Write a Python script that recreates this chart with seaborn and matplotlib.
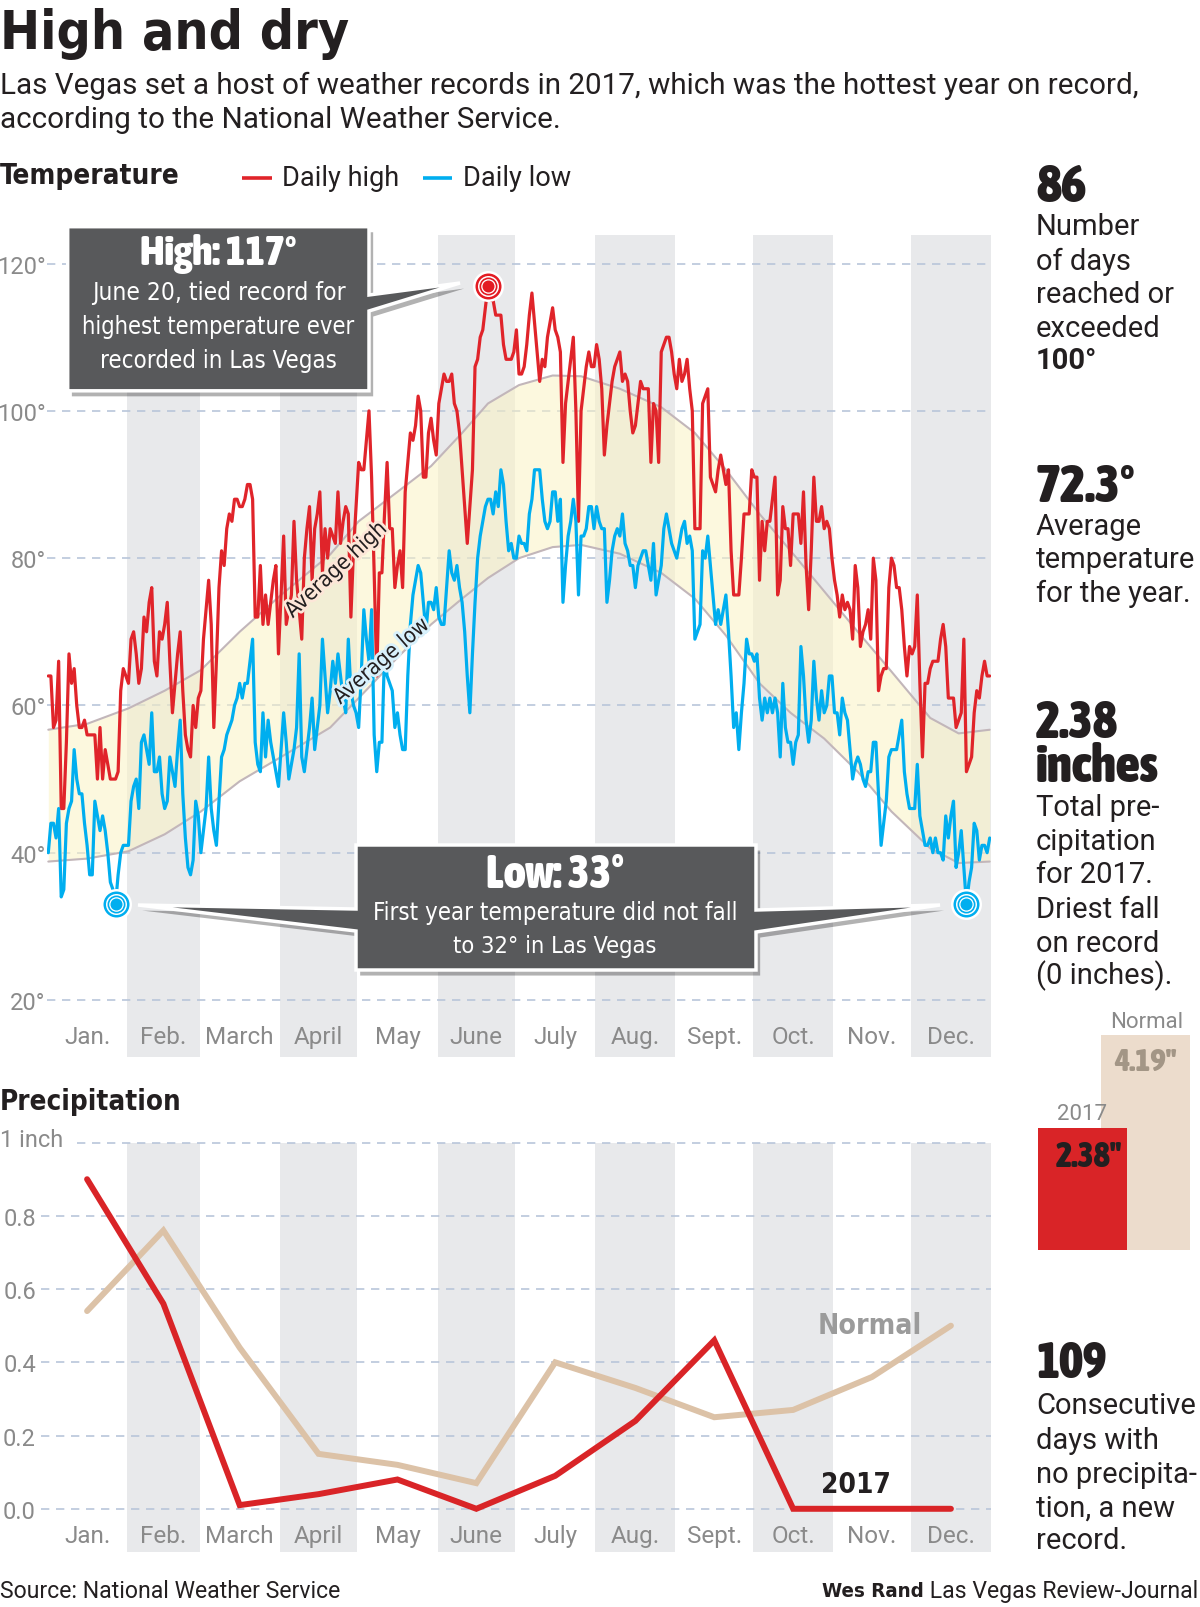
import numpy as np
import pandas as pd
import matplotlib
matplotlib.use('Agg')
import matplotlib.pyplot as plt
import matplotlib.patheffects as pe
from matplotlib.patches import Polygon
from matplotlib import font_manager as fm
from matplotlib.font_manager import FontProperties
import seaborn as sns

# ---------------- data ----------------
month_names = ['Jan.', 'Feb.', 'March', 'April', 'May', 'June', 'July', 'Aug.', 'Sept.', 'Oct.', 'Nov.', 'Dec.']
month_days = [31, 28, 31, 30, 31, 30, 31, 31, 30, 31, 30, 31]

high_jan = [64, 64, 57, 58, 66, 46, 46, 55, 67, 63, 65, 60, 57, 57, 58, 56, 56, 56, 56, 50, 57, 50, 54, 52, 50, 50, 50, 51, 62, 65, 64]
high_feb = [63, 69, 70, 67, 63, 65, 72, 70, 74, 76, 66, 64, 70, 69, 71, 74, 66, 59, 63, 67, 70, 62, 56, 54, 53, 60, 57, 61]
high_mar = [62, 69, 73, 77, 71, 57, 66, 76, 81, 79, 84, 86, 85, 88, 88, 87, 87, 88, 90, 90, 88, 72, 72, 79, 71, 75, 71, 74, 77, 79, 67]
high_apr = [75, 83, 71, 73, 75, 85, 77, 73, 69, 80, 84, 87, 77, 84, 86, 89, 78, 84, 80, 84, 83, 82, 89, 82, 85, 87, 86, 72, 81, 87]
high_may = [93, 92, 92, 96, 100, 91, 78, 64, 78, 78, 86, 93, 84, 84, 76, 79, 81, 76, 89, 93, 97, 96, 98, 102, 100, 91, 91, 97, 99, 96, 94]
high_jun = [101, 103, 105, 104, 104, 105, 101, 100, 97, 92, 87, 82, 87, 92, 106, 107, 110, 111, 114, 117, 115, 115, 113, 113, 113, 109, 107, 107, 107, 108]
high_jul = [111, 105, 105, 106, 109, 113, 116, 112, 108, 104, 107, 106, 110, 112, 114, 111, 110, 108, 93, 101, 104, 107, 110, 100, 85, 100, 103, 106, 108, 106, 106]
high_aug = [109, 107, 103, 94, 98, 101, 104, 106, 107, 108, 104, 105, 104, 100, 97, 98, 101, 104, 103, 103, 103, 93, 101, 100, 93, 108, 109, 110, 110, 108, 105]
high_sep = [103, 107, 104, 105, 107, 103, 100, 84, 84, 84, 101, 102, 103, 91, 90, 89, 92, 94, 92, 90, 92, 81, 75, 75, 75, 80, 86, 86, 86, 92]
high_oct = [91, 91, 77, 85, 81, 85, 85, 88, 91, 75, 77, 87, 84, 84, 79, 86, 86, 86, 82, 89, 79, 73, 81, 91, 85, 85, 87, 84, 85, 84, 80]
high_nov = [77, 75, 72, 75, 73, 74, 73, 69, 79, 76, 68, 70, 71, 73, 69, 80, 77, 62, 64, 65, 65, 76, 80, 79, 76, 76, 73, 68, 64, 68]
high_dec = [67, 68, 75, 63, 53, 63, 63, 65, 66, 66, 66, 69, 71, 68, 61, 61, 61, 57, 58, 59, 69, 51, 52, 53, 59, 62, 61, 64, 66, 64, 64]

low_jan = [40, 44, 44, 42, 46, 34, 35, 44, 46, 47, 54, 50, 48, 48, 44, 41, 37, 37, 47, 45, 43, 45, 43, 40, 36, 35, 33, 37, 40, 41, 41]
low_feb = [41, 47, 49, 50, 46, 55, 56, 54, 52, 59, 51, 51, 53, 48, 46, 47, 53, 51, 49, 54, 58, 48, 42, 38, 37, 39, 47, 45]
low_mar = [40, 43, 46, 53, 46, 43, 41, 47, 53, 54, 56, 57, 58, 60, 61, 63, 61, 63, 63, 66, 69, 55, 52, 51, 59, 53, 58, 55, 53, 51, 49]
low_apr = [54, 59, 55, 50, 52, 54, 57, 67, 53, 51, 54, 57, 61, 54, 57, 60, 69, 64, 59, 62, 66, 63, 67, 64, 61, 59, 69, 62, 60, 59]
low_may = [57, 64, 73, 69, 66, 73, 56, 51, 55, 55, 67, 64, 63, 62, 57, 59, 56, 54, 54, 64, 71, 75, 77, 79, 78, 74, 70, 74, 74, 73, 76]
low_jun = [72, 71, 71, 76, 81, 78, 77, 79, 76, 74, 70, 64, 59, 67, 74, 80, 83, 85, 87, 88, 88, 86, 89, 87, 92, 90, 85, 81, 82, 80]
low_jul = [80, 83, 82, 82, 81, 86, 88, 92, 92, 92, 88, 85, 84, 85, 89, 89, 85, 88, 74, 79, 83, 85, 88, 85, 75, 83, 83, 84, 87, 87, 84]
low_aug = [87, 85, 84, 84, 74, 77, 81, 83, 84, 83, 86, 82, 81, 79, 79, 76, 79, 80, 81, 81, 79, 77, 82, 75, 77, 79, 84, 86, 84, 82, 81]
low_sep = [80, 82, 84, 85, 82, 83, 81, 69, 70, 71, 81, 80, 83, 79, 75, 71, 73, 71, 73, 75, 70, 64, 57, 59, 54, 59, 63, 69, 67, 67]
low_oct = [66, 67, 61, 58, 61, 59, 61, 59, 61, 59, 53, 63, 57, 55, 55, 52, 55, 56, 68, 64, 58, 55, 58, 66, 61, 58, 62, 59, 60, 64, 64]
low_nov = [59, 59, 56, 61, 59, 58, 54, 50, 52, 53, 52, 50, 49, 51, 51, 55, 55, 48, 41, 44, 47, 53, 54, 54, 54, 56, 58, 51, 48, 46]
low_dec = [46, 46, 52, 45, 43, 41, 41, 42, 40, 42, 40, 40, 39, 45, 42, 45, 47, 38, 40, 43, 38, 33, 36, 38, 44, 43, 39, 41, 41, 40, 42]

avg_days = [0, 15, 31, 45, 59, 74, 90, 109, 120, 135, 148, 160, 170, 182, 195, 206, 221, 237, 250, 262, 275, 287, 300, 313, 326, 341, 352, 364]
avg_high = [56.7, 57.5, 59.6, 62, 64.8, 70, 75, 80.5, 85, 89, 92.5, 97, 101, 103.5, 104.8, 104.7, 103, 100.5, 97, 92, 86, 81, 75.5, 70, 64.6, 58.3, 56.2, 56.7]
avg_low = [38.8, 39.2, 40.2, 42.5, 45.6, 49.7, 53, 57, 61, 66.5, 71, 74.5, 77.3, 80, 81.5, 81.8, 80.6, 78, 74.5, 69.5, 63, 59, 55.5, 51, 45.6, 40.6, 38.6, 38.8]

precip_2017 = [0.90, 0.56, 0.01, 0.04, 0.08, 0.00, 0.09, 0.24, 0.46, 0.00, 0.00, 0.00]
precip_normal = [0.54, 0.76, 0.44, 0.15, 0.12, 0.07, 0.40, 0.33, 0.25, 0.27, 0.36, 0.50]
total_labels = ['2017', 'Normal']
total_values = [2.38, 4.19]

temp_ticks = [20, 40, 60, 80, 100, 120]
precip_ticks = [0.0, 0.2, 0.4, 0.6, 0.8]

daily_high = sum([high_jan, high_feb, high_mar, high_apr, high_may, high_jun,
                  high_jul, high_aug, high_sep, high_oct, high_nov, high_dec], [])
daily_low = sum([low_jan, low_feb, low_mar, low_apr, low_may, low_jun,
                 low_jul, low_aug, low_sep, low_oct, low_nov, low_dec], [])
days = np.arange(len(daily_high))
month_start = np.concatenate([[0], np.cumsum(month_days)[:-1]])
month_mid = month_start + np.array(month_days) / 2.0 - 0.5
df_daily = pd.DataFrame({'day': days, 'high': daily_high, 'low': daily_low})
df_avg = pd.DataFrame({'day': avg_days, 'high': avg_high, 'low': avg_low})
df_prec = pd.DataFrame({'mid': month_mid, 'y2017': precip_2017, 'normal': precip_normal})

# ---------------- style ----------------
sns.set_theme(style='white')
names = {f.name for f in fm.fontManager.ttflist}
BODY = 'Roboto' if 'Roboto' in names else 'DejaVu Sans'
plt.rcParams['font.family'] = [BODY, 'DejaVu Sans']


def _wnum(w):
    if isinstance(w, (int, float)):
        return int(w)
    try:
        return int(w)
    except Exception:
        return fm.weight_dict.get(str(w).lower(), 400)


def _is_narrow(f):
    nm = f.name.lower()
    st = f.stretch
    if any(k in nm for k in ('narrow', 'condensed', 'compressed')):
        return True
    if isinstance(st, str) and 'condensed' in st.lower():
        return True
    if isinstance(st, (int, float)) and st < 500:
        return True
    return False


def pick_font(target):
    cands = []
    for f in fm.fontManager.ttflist:
        if f.style != 'normal' or not _is_narrow(f):
            continue
        if 'cjk' in f.name.lower() or 'mono' in f.name.lower():
            continue
        w = _wnum(f.weight)
        if target >= 600 and w < 600:
            continue
        if target < 600 and (w < 350 or w > 500):
            continue
        cands.append((abs(w - target), f.fname))
    if cands:
        cands.sort()
        return cands[0][1]
    return fm.findfont(FontProperties(family=BODY, weight='bold' if target >= 600 else 'normal'))


NARROW_BLACK = pick_font(850)
NARROW_B = pick_font(700)
NARROW_R = pick_font(400)

RED = '#e0242a'
BLUE = '#00aeef'
TAN = '#dcc2a7'
BAND = '#e8e9eb'
GRID = '#b9c6da'
GRAYTXT = '#8a8a8a'
DARK = '#231f20'
BOX = '#58595b'

W, H = 1200, 1608
fig = plt.figure(figsize=(W / 100, H / 100), dpi=100)
fig.patch.set_facecolor('white')
renderer = fig.canvas.get_renderer()


def fit_text(ax, x, y, s, target_w, path, rotation=0, **kw):
    """Place text in a given font file, sized so its width matches target_w pixels."""
    t = ax.text(x, y, s, fontproperties=FontProperties(fname=path, size=20), **kw)
    w = t.get_window_extent(renderer=renderer).width
    t.set_fontproperties(FontProperties(fname=path, size=20 * target_w / w))
    t.set_rotation(rotation)
    return t


def px_axes(left, top, right, bottom, z=1):
    a = fig.add_axes([left / W, 1 - bottom / H, (right - left) / W, (bottom - top) / H])
    a.set_zorder(z)
    a.patch.set_alpha(0)
    for s in a.spines.values():
        s.set_visible(False)
    return a


# ---------------- temperature panel ----------------
ax_t = px_axes(47, 236, 991, 1058)
ax_t.set_xlim(-0.5, 364.5)
ax_t.set_ylim(12.26, 123.88)
for i in range(1, 12, 2):
    ax_t.axvspan(month_start[i] - 0.5, month_start[i] + month_days[i] - 0.5, color=BAND, lw=0, zorder=0)
for v in temp_ticks:
    ax_t.axhline(v, color=GRID, lw=1.2, ls=(0, (5, 4)), zorder=1)

ax_t.fill_between(df_avg['day'], df_avg['low'], df_avg['high'], color='#fbf3c4', alpha=0.55, lw=0, zorder=1.5)
sns.lineplot(data=df_avg, x='day', y='high', ax=ax_t, color='#c2b6ba', linewidth=1.5, zorder=2)
sns.lineplot(data=df_avg, x='day', y='low', ax=ax_t, color='#c2b6ba', linewidth=1.5, zorder=2)

sns.lineplot(data=df_daily, x='day', y='high', ax=ax_t, color=RED, linewidth=2.3, zorder=3,
             solid_joinstyle='round')
sns.lineplot(data=df_daily, x='day', y='low', ax=ax_t, color=BLUE, linewidth=2.3, zorder=3.2,
             solid_joinstyle='round')

ax_t.set_xlabel('')
ax_t.set_ylabel('')
ax_t.set_xticks([])
ax_t.set_yticks(temp_ticks)
ax_t.set_yticklabels([f'{v}°' for v in temp_ticks])
ax_t.tick_params(axis='y', length=0, pad=1, labelsize=17, labelcolor=GRAYTXT)
for m, name in zip(month_mid, month_names):
    ax_t.text(m, 14.98, name, ha='center', va='center', fontsize=17.5, color=GRAYTXT)

# average labels
fit_text(ax_t, 111.3, 78.4, 'Average high', 130, NARROW_R, rotation=43, ha='center', va='center',
         color=DARK, zorder=4, path_effects=[pe.withStroke(linewidth=4, foreground='#fde6d8')])
fit_text(ax_t, 128.8, 66.0, 'Average low', 119, NARROW_R, rotation=41, ha='center', va='center',
         color=DARK, zorder=4, path_effects=[pe.withStroke(linewidth=4, foreground='#d8f1fc')])


def ring_marker(ax, x, y, color):
    for r, c in [(15.5, 'white'), (13, color), (10.5, 'white'), (9, color), (7.3, 'white'), (6, color)]:
        ax.scatter([x], [y], s=(2 * r * 0.72) ** 2, color=c, lw=0, zorder=8, clip_on=False)


hi_idx = int(np.argmax(daily_high))
jan_idx = int(np.argmin(daily_low[:31]))
dec_idx = int(month_start[11] + np.argmin(daily_low[int(month_start[11]):]))
ring_marker(ax_t, hi_idx, daily_high[hi_idx], '#e31b23')
ring_marker(ax_t, jan_idx, daily_low[jan_idx], BLUE)
ring_marker(ax_t, dec_idx, daily_low[dec_idx], BLUE)

# ---------------- precipitation panel ----------------
ax_p = px_axes(47, 1143.6, 991, 1553)
ax_p.set_xlim(-0.5, 364.5)
ax_p.set_ylim(-0.118, 1.0)
for i in range(1, 12, 2):
    ax_p.axvspan(month_start[i] - 0.5, month_start[i] + month_days[i] - 0.5, color=BAND, lw=0, zorder=0)
for v in precip_ticks:
    ax_p.axhline(v, xmin=-0.006, color=GRID, lw=1.2, ls=(0, (5, 4)), zorder=1, clip_on=False)
ax_p.axhline(1.0, xmin=0.032, color=GRID, lw=1.2, ls=(0, (5, 4)), zorder=1, clip_on=False)
sns.lineplot(data=df_prec, x='mid', y='normal', ax=ax_p, color=TAN, linewidth=4.3, zorder=3,
             solid_capstyle='round', solid_joinstyle='miter')
sns.lineplot(data=df_prec, x='mid', y='y2017', ax=ax_p, color='#d92427', linewidth=4.3, zorder=4,
             solid_capstyle='round', solid_joinstyle='miter')
ax_p.set_xlabel('')
ax_p.set_ylabel('')
ax_p.set_xticks([])
ax_p.set_yticks(precip_ticks)
ax_p.set_yticklabels([f'{v:.1f}' for v in precip_ticks])
ax_p.tick_params(axis='y', length=0, pad=8, labelsize=17, labelcolor=GRAYTXT)
for m, name in zip(month_mid, month_names):
    ax_p.text(m, -0.072, name, ha='center', va='center', fontsize=17.5, color=GRAYTXT)

# ---------------- total precipitation bars ----------------
ax_b = px_axes(1038, 990, 1190, 1251)
ax_b.set_xlim(-0.709, 1.713)
ax_b.set_ylim(0, (1251 - 990) / 51.3)
ax_b.bar([1], [total_values[1]], width=1.418, color='#ecdccc', lw=0, zorder=1)
ax_b.bar([0], [total_values[0]], width=1.418, color='#d92427', lw=0, zorder=2)
ax_b.set_xticks([])
ax_b.set_yticks([])
fit_text(ax_b, 1, total_values[1] - 0.51, f'{total_values[1]:.2f}"', 62, NARROW_BLACK, ha='center', va='center',
         color='#a39686', zorder=3)
fit_text(ax_b, 0.1, total_values[0] - 0.55, f'{total_values[0]:.2f}"', 66, NARROW_BLACK, ha='center', va='center',
         color=DARK, zorder=3)
ax_b.text(1.03, total_values[1] + 0.27, total_labels[1], ha='center', va='center', fontsize=16, color=GRAYTXT)
ax_b.text(0.0, total_values[0] + 0.29, total_labels[0], ha='center', va='center', fontsize=16, color=GRAYTXT)

# ---------------- overlay (text & callouts) ----------------
ov = fig.add_axes([0, 0, 1, 1])
ov.set_zorder(5)
ov.patch.set_alpha(0)
ov.set_xlim(0, W)
ov.set_ylim(H, 0)
ov.axis('off')

fit_text(ov, 0, 49, 'High and dry', 350, NARROW_B, color=DARK, va='baseline')
ov.text(0, 86, 'Las Vegas set a host of weather records in 2017, which was the hottest year on record,',
        fontsize=21.3, color=DARK, va='center')
ov.text(0, 120, 'according to the National Weather Service.', fontsize=21.3, color=DARK, va='center')

fit_text(ov, 0, 176, 'Temperature', 180, NARROW_B, color=DARK, va='center')
ov.plot([242, 272], [179, 179], color=RED, lw=2.6, solid_capstyle='butt')
ov.text(282, 179, 'Daily high', fontsize=19.5, color=DARK, va='center')
ov.plot([423, 452], [179, 179], color=BLUE, lw=2.6, solid_capstyle='butt')
ov.text(463, 179, 'Daily low', fontsize=19.5, color=DARK, va='center')

fit_text(ov, 0, 1102, 'Precipitation', 181, NARROW_B, color=DARK, va='center')
ov.text(0, 1141, '1 inch', fontsize=17, color=GRAYTXT, va='center')
fit_text(ov, 870, 1326, 'Normal', 104, NARROW_B, color='#9b9b9b', ha='center', va='center')
fit_text(ov, 856, 1485, '2017', 70, NARROW_B, color=DARK, ha='center', va='center')

shadow = [pe.SimplePatchShadow(offset=(3, -4), shadow_rgbFace='black', alpha=0.3), pe.Normal()]
high_box = [(67.7, 227.7), (369, 227.7), (369, 296), (460, 284), (369, 312), (369, 391.8), (67.7, 391.8)]
ov.add_patch(Polygon(high_box, closed=True, facecolor=BOX, edgecolor='white', lw=2.5,
                     joinstyle='miter', path_effects=shadow))
low_box = [(356, 846), (756, 846), (756, 911), (940, 906), (756, 933), (756, 971), (356, 971),
           (356, 932), (138, 906), (356, 910)]
ov.add_patch(Polygon(low_box, closed=True, facecolor=BOX, edgecolor='white', lw=2.5,
                     joinstyle='miter', path_effects=shadow))

fit_text(ov, 218.5, 254, 'High: 117°', 156, NARROW_BLACK, color='white', ha='center', va='center')
for y, s, tw in [(293, 'June 20, tied record for', 252), (327, 'highest temperature ever', 273),
                 (361, 'recorded in Las Vegas', 236)]:
    fit_text(ov, 218.5, y, s, tw, NARROW_R, color='white', ha='center', va='center')
fit_text(ov, 555, 875, 'Low: 33°', 138, NARROW_BLACK, color='white', ha='center', va='center')
for y, s, tw in [(913, 'First year temperature did not fall', 362), (947, 'to 32° in Las Vegas', 203)]:
    fit_text(ov, 555, y, s, tw, NARROW_R, color='white', ha='center', va='center')

# right-hand stats
SX = 1036
big_stats = [(187, '86', 50), (487, '72.3°', 99), (724, '2.38', 82), (768, 'inches', 123), (1364, '109', 70)]
for y, s, tw in big_stats:
    fit_text(ov, SX, y, s, tw, NARROW_BLACK, color=DARK, va='center')
body_stats = [
    (227, 'Number'), (262, 'of days'), (295, 'reached or'), (329, 'exceeded'),
    (527, 'Average'), (560, 'temperature'), (594, 'for the year.'),
    (808, 'Total pre-'), (842, 'cipitation'), (875, 'for 2017.'), (910, 'Driest fall'),
    (944, 'on record'), (976, '(0 inches).'),
    (1406, 'Consecutive'), (1441, 'days with'), (1475, 'no precipita-'), (1509, 'tion, a new'), (1541, 'record.'),
]
for y, s in body_stats:
    ov.text(SX, y, s, fontsize=21, color=DARK, va='center')
ov.text(SX, 361, '100°', fontsize=21, fontweight='bold', color=DARK, va='center')

# footer
ov.text(0, 1592, 'Source: National Weather Service', fontsize=16.6, color=DARK, va='center')
t_r = ov.text(1198, 1592, ' Las Vegas Review-Journal', fontsize=16.6, color=DARK, va='center', ha='right')
bb = t_r.get_window_extent(renderer=renderer)
fit_text(ov, 1198 - bb.width, 1592, 'Wes Rand', 102, NARROW_B, color=DARK, va='center', ha='right')

fig.savefig('out.png', dpi=100, facecolor='white')
